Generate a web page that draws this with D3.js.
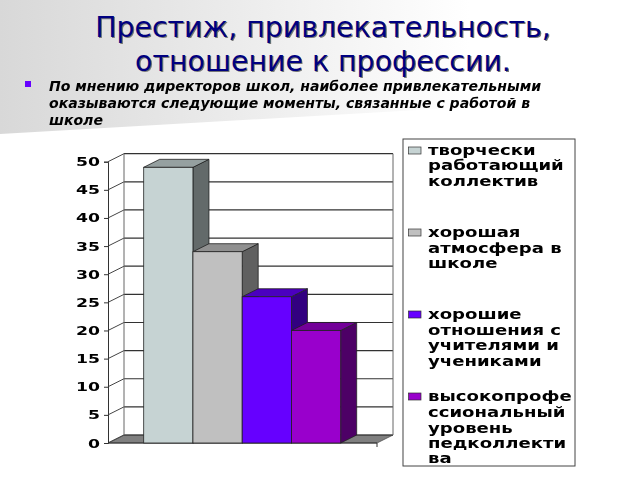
<!DOCTYPE html>
<html>
<head>
<meta charset="utf-8">
<script src="https://cdn.jsdelivr.net/npm/d3@7"></script>
<style>
html, body { margin: 0; padding: 0; background: #fff; }
svg { display: block; }
</style>
</head>
<body>
<svg id="chart"></svg>
<script>
var titleLines = ["Престиж, привлекательность,", "отношение к профессии."];
var bodyLines = ["По мнению директоров школ, наиболее привлекательными",
    "оказываются следующие моменты, связанные с работой в",
    "школе"];
var categories = ["творчески работающий коллектив", "хорошая атмосфера в школе",
    "хорошие отношения с учителями и учениками", "высокопрофессиональный уровень педколлектива"];
var values = [49, 34, 26, 20];
var frontColors = ["#c6d3d3", "#c0c0c0", "#6600ff", "#9900cc"];
var topColors = ["#95a0a0", "#909090", "#4c00bf", "#730099"];
var sideColors = ["#636a6a", "#606060", "#330080", "#4d0066"];
var yTicks = [0, 5, 10, 15, 20, 25, 30, 35, 40, 45, 50];
var legendLines = [
    ["творчески", "работающий", "коллектив"],
    ["хорошая", "атмосфера в", "школе"],
    ["хорошие", "отношения с", "учителями и", "учениками"],
    ["высокопрофе", "ссиональный", "уровень", "педколлекти", "ва"]
];
var legendBaselines = [
    [155, 170, 186],
    [237, 253, 268],
    [319, 335, 350, 366],
    [401, 417, 433, 448, 463]
];

var svg = d3.select("#chart").attr("width", 640).attr("height", 480);
var defs = svg.append("defs");
var grad = defs.append("linearGradient").attr("id", "bg").attr("x1", "0").attr("x2", "1").attr("y1", "0").attr("y2", "0");
grad.append("stop").attr("offset", "0").attr("stop-color", "#d8d8d8");
grad.append("stop").attr("offset", "1").attr("stop-color", "#ffffff");
defs.append("filter").attr("id", "soft").append("feGaussianBlur").attr("stdDeviation", 0.45);
defs.append("filter").attr("id", "shadow").append("feGaussianBlur").attr("stdDeviation", 0.6);

// slide background
svg.append("path").attr("d", "M0,0H470V107L0,134Z").attr("fill", "url(#bg)");

// title with its shadow
[{dx: 1.2, dy: 1.2, fill: "#777", f: "url(#shadow)"}, {dx: 0, dy: 0, fill: "#000080", f: null}].forEach(function(s) {
    svg.append("g").attr("filter", s.f).selectAll("text").data(titleLines).join("text")
        .attr("x", 323 + s.dx)
        .attr("y", function(d, i) { return 37 + i * 33.5 + s.dy; })
        .attr("text-anchor", "middle")
        .attr("font-family", "DejaVu Sans")
        .attr("font-size", 28.4)
        .attr("fill", s.fill)
        .text(function(d) { return d; });
});

// bullet and text
svg.append("rect").attr("x", 25).attr("y", 81).attr("width", 6).attr("height", 6).attr("fill", "#6600ff");
svg.append("g").attr("filter", "url(#soft)").selectAll("text").data(bodyLines).join("text")
    .attr("transform", function(d, i) { return "translate(49," + (91 + i * 17) + ") scale(1.05,1)"; })
    .attr("font-family", "DejaVu Sans")
    .attr("font-weight", "bold")
    .attr("font-style", "italic")
    .attr("font-size", 13.4)
    .attr("fill", "#000")
    .text(function(d) { return d; });

// chart
var chart = svg.append("g").attr("filter", "url(#soft)");
var depthX = 16, depthY = 8;
var x = d3.scaleBand().domain(categories).range([143.7, 340.7]);
var y = d3.scaleLinear().domain([0, 50]).range([443, 161.7]);
var xLeft = 108, xRight = 377;

// floor
chart.append("path")
    .attr("d", "M" + xLeft + "," + y(0) + "l" + depthX + "," + (-depthY) + "H" + (xRight + depthX) + "l" + (-depthX) + "," + depthY + "Z")
    .attr("fill", "#808080").attr("stroke", "#444").attr("stroke-width", 0.7);

// back wall gridlines
chart.append("g").selectAll("line").data(yTicks).join("line")
    .attr("x1", xLeft + depthX).attr("x2", xRight + depthX)
    .attr("y1", function(d) { return y(d) - depthY; })
    .attr("y2", function(d) { return y(d) - depthY; })
    .attr("stroke", "#333").attr("stroke-width", 1.2);
chart.append("g").selectAll("line").data(yTicks).join("line")
    .attr("x1", xLeft).attr("x2", xLeft + depthX)
    .attr("y1", function(d) { return y(d); })
    .attr("y2", function(d) { return y(d) - depthY; })
    .attr("stroke", "#444").attr("stroke-width", 1);
chart.append("line").attr("x1", xLeft + depthX).attr("x2", xLeft + depthX)
    .attr("y1", y(0) - depthY).attr("y2", y(50) - depthY).attr("stroke", "#666");
chart.append("line").attr("x1", xRight + depthX).attr("x2", xRight + depthX)
    .attr("y1", y(0) - depthY).attr("y2", y(50) - depthY).attr("stroke", "#666");

// y axis
var axis = chart.append("g").attr("transform", "translate(" + xLeft + ",0)")
    .call(d3.axisLeft(y).tickValues(yTicks).tickSize(4).tickPadding(3));
axis.selectAll("path, line").attr("stroke", "#333");
axis.selectAll("text").remove();
chart.append("g").selectAll("text").data(yTicks).join("text")
    .attr("transform", function(d) { return "translate(100," + (y(d) + 4.5) + ") scale(1.44,1)"; })
    .attr("text-anchor", "end")
    .attr("font-family", "DejaVu Sans")
    .attr("font-weight", "bold")
    .attr("font-size", 12)
    .attr("fill", "#000")
    .text(function(d) { return d; });

// x axis base line and end tick
chart.append("line").attr("x1", xLeft).attr("x2", xRight).attr("y1", y(0)).attr("y2", y(0)).attr("stroke", "#333");
chart.append("line").attr("x1", xRight).attr("x2", xRight).attr("y1", y(0)).attr("y2", y(0) + 4).attr("stroke", "#333");

// bars
var bars = chart.append("g").selectAll("g").data(categories).join("g")
    .attr("stroke", "#222").attr("stroke-width", 0.8);
bars.append("path")
    .attr("d", function(d, i) {
        var x1 = x(d) + x.bandwidth();
        return "M" + x1 + "," + y(values[i]) + "l" + depthX + "," + (-depthY) + "V" + (y(0) - depthY) + "l" + (-depthX) + "," + depthY + "Z";
    })
    .attr("fill", function(d, i) { return sideColors[i]; });
bars.append("path")
    .attr("d", function(d, i) {
        return "M" + x(d) + "," + y(values[i]) + "l" + depthX + "," + (-depthY) + "h" + x.bandwidth() + "l" + (-depthX) + "," + depthY + "Z";
    })
    .attr("fill", function(d, i) { return topColors[i]; });
bars.append("rect")
    .attr("x", function(d) { return x(d); })
    .attr("y", function(d, i) { return y(values[i]); })
    .attr("width", x.bandwidth())
    .attr("height", function(d, i) { return y(0) - y(values[i]); })
    .attr("fill", function(d, i) { return frontColors[i]; });

// legend
var legend = svg.append("g").attr("filter", "url(#soft)");
legend.append("rect").attr("x", 403).attr("y", 139).attr("width", 172).attr("height", 327)
    .attr("fill", "#fff").attr("stroke", "#444").attr("stroke-width", 1);
categories.forEach(function(c, i) {
    legend.append("rect")
        .attr("x", 408.5).attr("y", legendBaselines[i][0] - 8).attr("width", 12.5).attr("height", 7)
        .attr("fill", frontColors[i]).attr("stroke", "#333").attr("stroke-width", 0.7);
    legendLines[i].forEach(function(line, j) {
        legend.append("text")
            .attr("transform", "translate(428," + legendBaselines[i][j] + ") scale(1.34,1)")
            .attr("font-family", "DejaVu Sans")
            .attr("font-weight", "bold")
            .attr("font-size", 13.5)
            .attr("fill", "#000")
            .text(line);
    });
});
</script>
</body>
</html>
